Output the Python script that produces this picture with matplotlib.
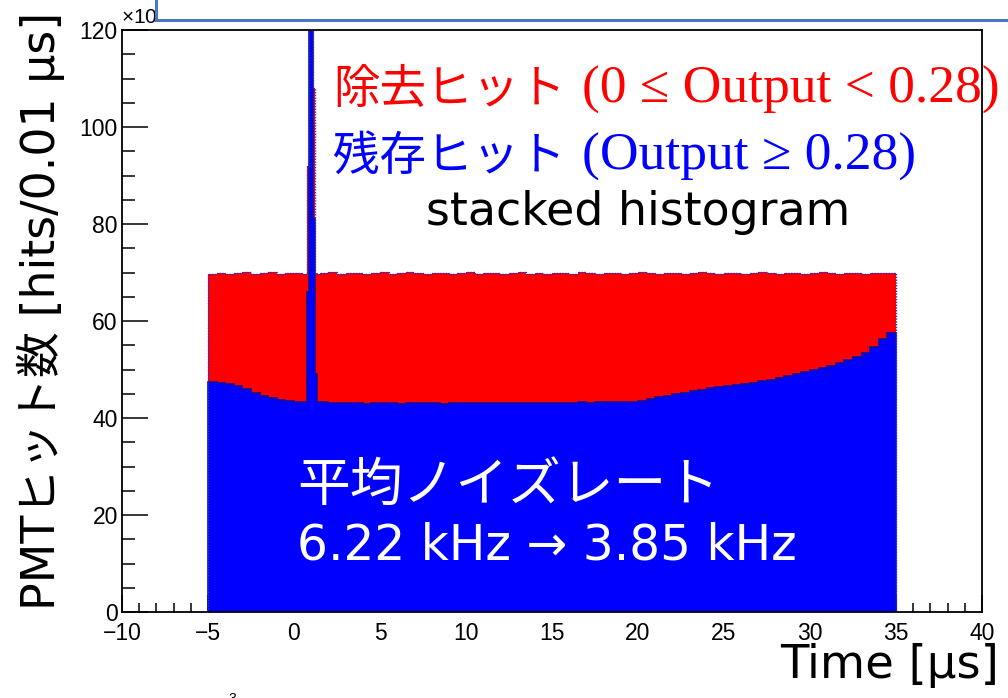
import numpy as np
import matplotlib
matplotlib.use("Agg")
import matplotlib.pyplot as plt
from matplotlib.patches import Rectangle

# ---- data (counts in units of 10^3 hits per 0.01 us) ----
bin_edges = [
    -5.0, -4.5, -4.0, -3.5, -3.0, -2.5, -2.0, -1.5, -1.0, -0.5, 0.0, 0.5,
    0.77, 0.87, 1.10, 1.20, 1.32, 1.5,
    2.0, 2.5, 3.0, 3.5, 4.0, 4.5, 5.0, 5.5, 6.0, 6.5, 7.0, 7.5, 8.0, 8.5,
    9.0, 9.5, 10.0, 10.5, 11.0, 11.5, 12.0, 12.5, 13.0, 13.5, 14.0, 14.5,
    15.0, 15.5, 16.0, 16.5, 17.0, 17.5, 18.0, 18.5, 19.0, 19.5, 20.0, 20.5,
    21.0, 21.5, 22.0, 22.5, 23.0, 23.5, 24.0, 24.5, 25.0, 25.5, 26.0, 26.5,
    27.0, 27.5, 28.0, 28.5, 29.0, 29.5, 30.0, 30.5, 31.0, 31.5, 32.0, 32.5,
    33.0, 33.5, 34.0, 34.5, 35.0,
]

# hits surviving the cut (Output >= 0.28)
remaining_hits = [
    47.4, 47.3, 47.0, 46.6, 45.9, 45.2, 44.6, 44.2, 43.8, 43.5, 43.4, 43.3,
    66.0, 140.0, 81.0, 49.0, 43.2,
    43.2, 43.1, 43.0, 43.1, 43.0, 42.9, 43.0, 43.1, 43.0, 42.9, 43.0, 43.1,
    43.0, 43.0, 42.9, 43.0, 43.1, 43.0, 43.0, 43.1, 43.0, 43.1, 43.0, 43.1,
    43.1, 43.0, 43.1, 43.1, 43.0, 43.1, 43.2, 43.1, 43.2, 43.2, 43.3, 43.3,
    43.4, 43.6, 44.0, 44.3, 44.6, 44.9, 45.2, 45.5, 45.8, 46.1, 46.4, 46.6,
    46.8, 47.0, 47.3, 47.6, 47.9, 48.2, 48.6, 49.0, 49.4, 49.8, 50.3, 50.8,
    51.3, 51.9, 52.6, 53.4, 54.6, 56.2, 57.6,
]

# all hits (removed + remaining), i.e. top of the stack
all_hits = [
    69.7, 70.0, 69.6, 69.9, 70.1, 69.7, 69.8, 70.2, 69.6, 69.9, 70.0, 69.7,
    92.0, 142.0, 108.0, 70.0, 69.6,
    69.8, 70.1, 69.7, 69.9, 70.0, 69.6, 69.8, 70.1, 69.7, 69.9, 70.2, 69.8,
    69.6, 69.9, 70.0, 69.7, 69.8, 70.1, 69.6, 69.9, 70.0, 69.7, 69.8, 70.2,
    69.7, 69.9, 69.6, 70.0, 69.8, 69.7, 70.1, 69.9, 69.6, 69.8, 70.0, 69.7,
    69.9, 70.1, 69.8, 69.6, 69.9, 70.0, 69.7, 69.8, 70.1, 69.9, 69.6, 69.8,
    70.0, 69.7, 69.9, 70.1, 69.8, 69.6, 69.9, 70.0, 69.7, 69.8, 70.1, 69.9,
    69.7, 69.8, 70.0, 69.7, 69.9, 69.8, 70.0,
]

x_ticks = [-10, -5, 0, 5, 10, 15, 20, 25, 30, 35, 40]
y_ticks = [0, 20, 40, 60, 80, 100, 120]

removed_name, removed_cut = "除去ヒット", "(0 ≤ Output < 0.28)"
remaining_name, remaining_cut = "残存ヒット", "(Output ≥ 0.28)"
label_stack = "stacked histogram"
rate_title = "平均ノイズレート"
rate_values = "6.22 kHz → 3.85 kHz"

# ---- figure ----
W, H = 1008, 698
fig = plt.figure(figsize=(W / 100, H / 100), dpi=100)
ax = fig.add_axes([122 / W, 1 - 612 / H, (982 - 122) / W, (612 - 30) / H])

edges = np.array(bin_edges)
rem = np.array(remaining_hits)
tot = np.array(all_hits)

ax.stairs(rem, edges, baseline=0, fill=True, color="#0000ff", lw=0, zorder=2)
ax.stairs(tot, edges, baseline=rem, fill=True, color="#ff0000", lw=0, zorder=2)
ax.stairs(rem, edges, baseline=0, color="#1010a0", lw=1.2, zorder=3)
ax.stairs(tot, edges, baseline=0, color="#2030d0", lw=1.0, ls=(0, (1, 1)), zorder=3)

ax.set_xlim(-10, 40)
ax.set_ylim(0, 120)

tick_font = dict(family="Liberation Sans", size=16.5)
ax.set_xticks(x_ticks)
ax.set_xticklabels([("\u2212" + str(-v)) if v < 0 else str(v) for v in x_ticks], **tick_font)
ax.set_yticks(y_ticks)
ax.set_yticklabels([str(v) for v in y_ticks], **tick_font)
ax.set_xticks(np.arange(-10, 41, 1), minor=True)
ax.set_yticks(np.arange(0, 121, 5), minor=True)
ax.tick_params(axis="x", which="major", direction="in", length=12.5, width=1.1, pad=7)
ax.tick_params(axis="x", which="minor", direction="in", length=6.5, width=1.1)
ax.tick_params(axis="y", which="major", direction="in", length=19, width=1.1, pad=3)
ax.tick_params(axis="y", which="minor", direction="in", length=9.5, width=1.1)
for s in ax.spines.values():
    s.set_linewidth(1.3)
    s.set_zorder(4)

# axis titles
fig.text(41 / W, 1 - 311 / H, "PMTヒット数 [hits/0.01 μs]", rotation=90,
         ha="center", va="center", size=33, family=["DejaVu Sans", "Noto Sans CJK JP"])
fig.text(999 / W, 1 - 666 / H, "Time [μs]", ha="right", va="center",
         size=33.5, family="DejaVu Sans")

# exponent of the y axis
fig.text(121 / W, 1 - 16 / H, r"×10$^{3}$", ha="left", va="center",
         size=15, family="Liberation Sans")

# legend-like annotations: gothic name followed by the serif cut condition
fig.text(333 / W, 1 - 103 / H, removed_name, color="#ff0000", ha="left",
         va="baseline", size=33.5, family="Noto Sans CJK JP", zorder=10)
fig.text(582 / W, 1 - 103 / H, removed_cut, color="#ff0000", ha="left",
         va="baseline", size=38.5, family="Liberation Serif", zorder=10)
fig.text(333 / W, 1 - 170 / H, remaining_name, color="#0000ff", ha="left",
         va="baseline", size=33.5, family="Noto Sans CJK JP", zorder=10)
fig.text(582 / W, 1 - 170 / H, remaining_cut, color="#0000ff", ha="left",
         va="baseline", size=38.5, family="Liberation Serif", zorder=10)
fig.text(638 / W, 1 - 213 / H, label_stack, color="black", ha="center",
         va="center", size=33, family="DejaVu Sans", zorder=10)
fig.text(297 / W, 1 - 485 / H, rate_title, color="white", ha="left",
         va="center", size=38, family="Noto Sans CJK JP", zorder=10)
fig.text(297 / W, 1 - 545 / H, rate_values, color="white", ha="left",
         va="center", size=35, family=["DejaVu Sans", "Noto Sans CJK JP"], zorder=10)

# title banner box at the top
fig.patches.append(Rectangle((156 / W, 1 - 20 / H), 0.9, 0.1, transform=fig.transFigure,
                             facecolor="white", edgecolor="#4a76c8", lw=2.2, zorder=20))

# stray superscript below the axis
fig.text(232 / W, 1 - 706 / H, "3", ha="center", va="bottom", size=10,
         family="Liberation Sans")

fig.savefig("out.png", dpi=100)
